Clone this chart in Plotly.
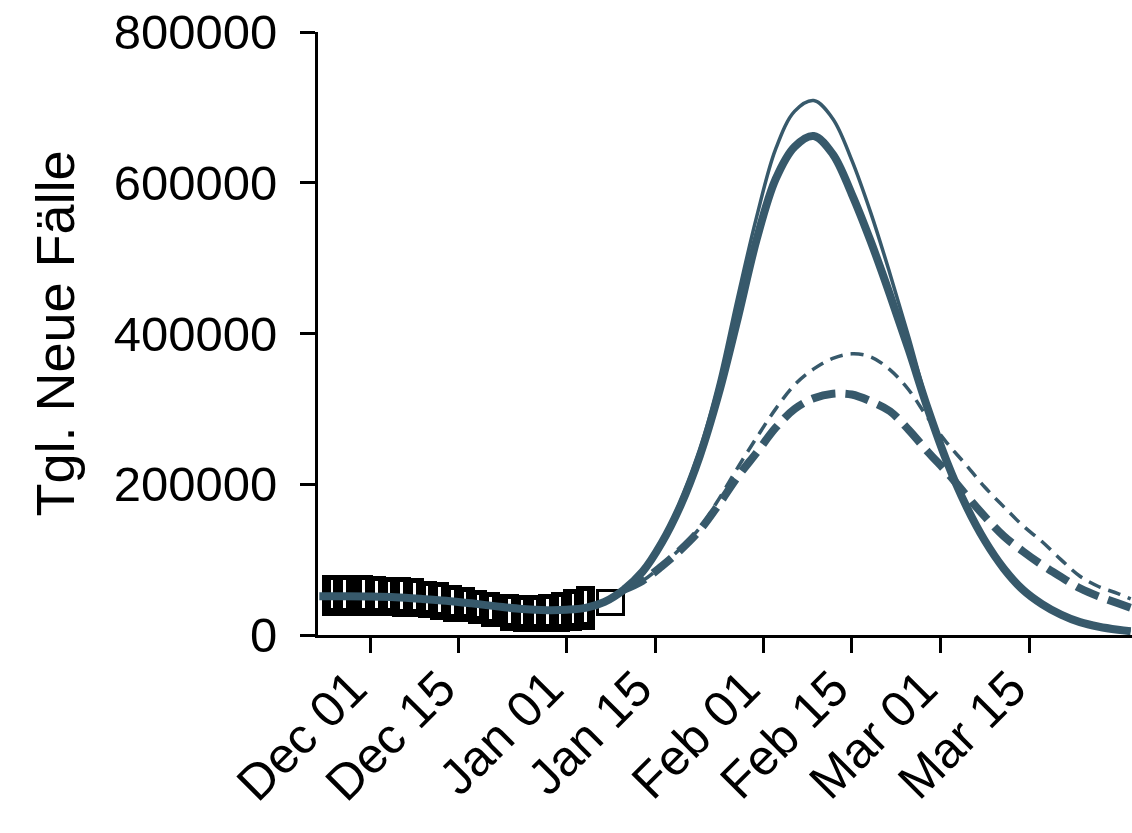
import plotly.graph_objects as go

# ---- reported data (boxes) ----
box_dates = ["2021-11-25", "2021-11-27", "2021-11-30", "2021-12-02", "2021-12-04",
             "2021-12-06", "2021-12-08", "2021-12-10", "2021-12-12", "2021-12-14",
             "2021-12-16", "2021-12-18", "2021-12-20", "2021-12-23", "2021-12-25",
             "2021-12-27", "2021-12-29", "2021-12-31", "2022-01-02", "2022-01-04"]
box_low = [25000, 25000, 25000, 25000, 25000, 23700, 23700, 22400, 19800, 17100,
           17100, 14500, 10500, 5300, 4000, 4000, 4000, 4000, 5300, 6600]
box_high = [79000, 79000, 79000, 77800, 76400, 76400, 75100, 71200, 69900, 65900,
            63300, 59300, 56700, 54000, 52700, 52700, 54000, 56700, 60600, 64600]

recent_date = ["2022-01-08"]
recent_low = [27000]
recent_high = [58500]

# ---- model fit history ----
hist_dates = ["2021-11-23", "2021-11-27", "2021-12-01", "2021-12-05", "2021-12-09",
              "2021-12-13", "2021-12-17", "2021-12-21", "2021-12-25", "2021-12-29",
              "2022-01-01", "2022-01-04", "2022-01-07"]
hist_cases = [51500, 51500, 51000, 50000, 48000, 45500, 42000, 38000, 34500, 33000,
              33500, 36000, 44000]

# ---- projections ----
proj_dates = ["2022-01-10", "2022-01-13", "2022-01-16", "2022-01-19", "2022-01-22",
              "2022-01-25", "2022-01-28", "2022-01-31", "2022-02-03", "2022-02-06",
              "2022-02-09", "2022-02-12", "2022-02-15", "2022-02-18", "2022-02-21",
              "2022-02-24", "2022-02-27", "2022-03-02", "2022-03-05", "2022-03-08",
              "2022-03-11", "2022-03-14", "2022-03-17", "2022-03-20", "2022-03-23",
              "2022-03-26", "2022-03-29", "2022-03-31"]
solid_thick = [60000, 84000, 122000, 172000, 237000, 320000, 420000, 525000, 605000, 648000,
               662000, 638000, 585000, 522000, 452000, 378000, 300000, 230000, 172000, 125000,
               88000, 60000, 41000, 27000, 17000, 11000, 7000, 5000]
solid_thin = [60000, 85000, 125000, 178000, 245000, 335000, 448000, 555000, 645000, 695000,
              709000, 685000, 630000, 560000, 480000, 395000, 305000, 232000, 173000, 126000,
              89000, 61000, 42000, 28000, 18000, 11500, 7500, 5500]
dashed_thick = [60000, 72000, 91000, 113000, 139000, 173000, 210000, 242000, 275000, 300000,
                314000, 320000, 319000, 310000, 297000, 272000, 243000, 216000, 186000, 157000,
                131000, 111000, 93000, 77000, 62000, 51000, 42000, 36000]
dashed_thin = [60000, 72000, 92000, 115000, 142000, 180000, 222000, 262000, 300000, 332000,
               353000, 367000, 373000, 369000, 352000, 325000, 288000, 255000, 226000, 196000,
               170000, 145000, 124000, 100000, 78000, 64000, 55000, 48000]

y_ticks = [0, 200000, 400000, 600000, 800000]
x_ticks = ["2021-12-01", "2021-12-15", "2022-01-01", "2022-01-15",
           "2022-02-01", "2022-02-15", "2022-03-01", "2022-03-15"]

LINE = "#37596B"
FONT = "Liberation Sans, Arial, sans-serif"
DAY_MS = 86400000

fig = go.Figure()

# black boxes
fig.add_trace(go.Bar(
    x=box_dates, base=box_low,
    y=[h - l for h, l in zip(box_high, box_low)],
    width=3 * DAY_MS, marker=dict(color="black", line=dict(width=0)),
    showlegend=False, hoverinfo="skip"))
# white interior strokes
inset_top, inset_bot = 6500, 11000
fig.add_trace(go.Bar(
    x=box_dates, base=[l + inset_bot for l in box_low],
    y=[(h - inset_top) - (l + inset_bot) for h, l in zip(box_high, box_low)],
    width=0.4 * DAY_MS, marker=dict(color="white", line=dict(width=0)),
    showlegend=False, hoverinfo="skip"))
# latest (hollow) box
fig.add_trace(go.Bar(
    x=recent_date, base=recent_low,
    y=[h - l for h, l in zip(recent_high, recent_low)],
    width=4 * DAY_MS, marker=dict(color="white", line=dict(color="black", width=3)),
    showlegend=False, hoverinfo="skip"))

fig.add_trace(go.Scatter(x=proj_dates, y=dashed_thin, mode="lines",
                         line=dict(color=LINE, width=3.5, dash="13px,8px", shape="spline"),
                         showlegend=False))
fig.add_trace(go.Scatter(x=proj_dates, y=dashed_thick, mode="lines",
                         line=dict(color=LINE, width=8, dash="24px,10px", shape="spline"),
                         showlegend=False))
fig.add_trace(go.Scatter(x=proj_dates, y=solid_thin, mode="lines",
                         line=dict(color=LINE, width=3.5, shape="spline"),
                         showlegend=False))
fig.add_trace(go.Scatter(x=hist_dates + proj_dates, y=hist_cases + solid_thick, mode="lines",
                         line=dict(color=LINE, width=8, shape="spline"),
                         showlegend=False))

fig.update_layout(
    width=1132, height=833,
    margin=dict(l=318, r=0, t=32, b=198),
    paper_bgcolor="white", plot_bgcolor="white",
    barmode="overlay", bargap=0,
    font=dict(family=FONT, size=50, color="black"),
)
fig.update_yaxes(
    range=[0, 800000], tickvals=y_ticks, ticktext=[str(v) for v in y_ticks],
    automargin=False, ticklabeloverflow="allow",
    showgrid=False, zeroline=False,
    showline=True, linecolor="black", linewidth=3,
    ticks="outside", ticklen=15, tickwidth=3, tickcolor="black",
    ticklabelstandoff=13, tickfont=dict(size=49),
    title=dict(text="Tgl. Neue Fälle", font=dict(size=54), standoff=22),
)
fig.update_xaxes(
    type="date", range=["2021-11-22 19:00", "2022-03-31 05:00"],
    automargin=False, ticklabeloverflow="allow",
    tickvals=x_ticks, tickformat="%b %d", tickangle=-45,
    showgrid=False, zeroline=False,
    showline=True, linecolor="black", linewidth=3,
    ticks="outside", ticklen=15, tickwidth=3, tickcolor="black",
    ticklabelshift=-18, ticklabelstandoff=-14,
    tickfont=dict(size=50),
)

# remove the default page margin so the figure fills the window exactly
fig.write_html("out.html", config={"displayModeBar": False},
               post_script="document.body.style.margin='0';")
